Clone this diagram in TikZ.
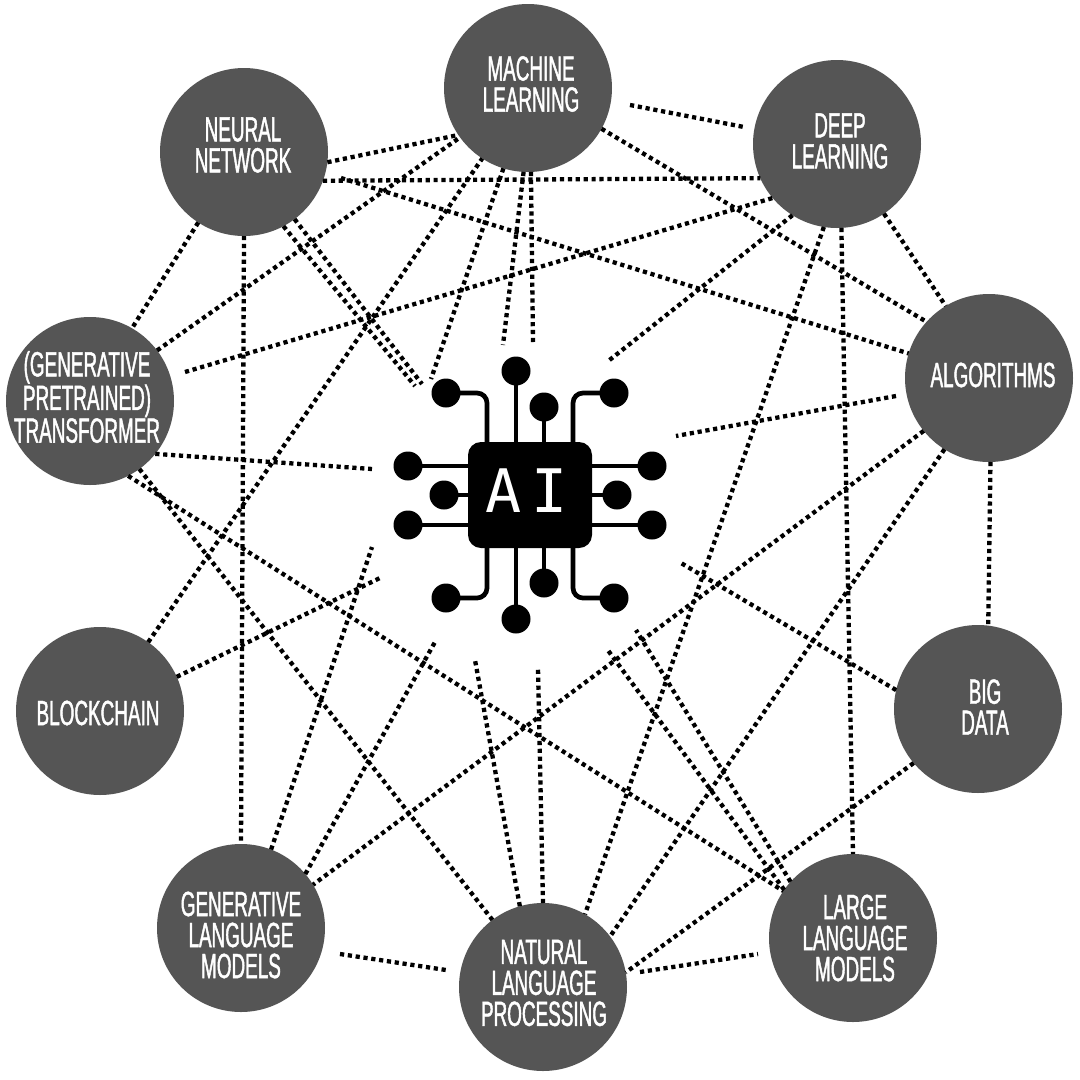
\documentclass[tikz,border=0pt]{standalone}
\usepackage{fontspec}
\setmainfont{Liberation Sans}
\newfontfamily\hubfont[FakeStretch=0.54,FakeBold=1.2]{Liberation Sans}
\newfontfamily\chipfont{DejaVu Sans Mono}
\definecolor{hubgrey}{HTML}{555555}
\tikzset{
  hub/.style={circle,fill=hubgrey,draw=none,minimum size=168pt,inner sep=0pt,outer sep=0pt},
  hubtext/.style={text=white,align=center,inner sep=0pt,font=\hubfont\fontsize{35}{31}\selectfont},
  link/.style={draw=black,line width=4.3pt,dash pattern=on 4.2pt off 3.7pt},
  pin/.style={circle,fill=black,minimum size=29pt,inner sep=0pt,outer sep=0pt},
  wire/.style={draw=black,line width=4.7pt,rounded corners=10pt}
}
\begin{document}
\begin{tikzpicture}[x=1pt,y=-1pt]
\useasboundingbox (0,0) rectangle (1080,1080);
% free ends of the links
\coordinate (mlE) at (630,105);
\coordinate (dlW) at (744,127);
\coordinate (nnS) at (341,178);
\coordinate (gptE) at (185,372);
\coordinate (algW) at (896,396);
\coordinate (nlpE) at (640,972);
\coordinate (llmW) at (758,954);
\coordinate (glmE) at (340,954);
\coordinate (nlpW) at (446,970);
\coordinate (ai1) at (422,384);
\coordinate (ai2) at (415,386);
\coordinate (ai3) at (431,379);
\coordinate (ai4) at (503,345);
\coordinate (ai5) at (533,342);
\coordinate (ai6) at (607,362);
\coordinate (ai7) at (676,436);
\coordinate (ai8) at (681,563);
\coordinate (ai9) at (372,469);
\coordinate (ai10) at (382,577);
\coordinate (ai11) at (372,547);
\coordinate (ai12) at (435,642);
\coordinate (ai13) at (475,660);
\coordinate (ai14) at (538,668);
\coordinate (ai15) at (607,649);
\coordinate (ai16) at (636,630);
% hubs
\node[hub] (ml) at (528,88) {};
\node[hub] (dl) at (837,144) {};
\node[hub] (alg) at (989,378) {};
\node[hub] (big) at (978,709) {};
\node[hub] (llm) at (853,938) {};
\node[hub] (nlp) at (543,987) {};
\node[hub] (glm) at (241,928) {};
\node[hub] (bc) at (100,711) {};
\node[hub] (gpt) at (90,401) {};
\node[hub] (nn) at (244,152) {};
% links
\draw[link] (mlE) -- (dlW);
\draw[link] (nn.-7) -- (ml.-146);
\draw[link] (nn.-20) -- (dl.-156);
\draw[link] (nnS) -- (alg.163);
\draw[link] (nn.-53) -- (ai1);
\draw[link] (nn.-62) -- (ai2);
\draw[link] (nn.-123) -- (gpt.60);
\draw[link] (nn.-90) -- (glm.90);
\draw[link] (gptE) -- (dl.-140);
\draw[link] (gpt.37) -- (ml.-144);
\draw[link] (bc.55) -- (ml.-123);
\draw[link] (ml.-107) -- (ai3);
\draw[link] (ml.-93) -- (ai4);
\draw[link] (ml.-88) -- (ai5);
\draw[link] (ml.-29) -- (alg.138);
\draw[link] (dl.-122) -- (ai6);
\draw[link] (dl.-99) -- (nlp.60);
\draw[link] (dl.-87) -- (llm.90);
\draw[link] (dl.-56) -- (alg.121);
\draw[link] (algW) -- (ai7);
\draw[link] (alg.-141) -- (glm.31);
\draw[link] (alg.-122) -- (nlp.37);
\draw[link] (alg.-89) -- (big.83);
\draw[link] (big.167) -- (ai8);
\draw[link] (big.-140) -- (nlp.10);
\draw[link] (nlpE) -- (llmW);
\draw[link] (glmE) -- (nlpW);
\draw[link] (gpt.-39) -- (ai9);
\draw[link] (gpt.-54) -- (nlp.127);
\draw[link] (gpt.-63) -- (llm.146);
\draw[link] (bc.24) -- (ai10);
\draw[link] (glm.69) -- (ai11);
\draw[link] (glm.40) -- (ai12);
\draw[link] (nlp.106) -- (ai13);
\draw[link] (nlp.90) -- (ai14);
\draw[link] (llm.145) -- (ai15);
\draw[link] (llm.138) -- (ai16);
% hub labels
\node[hubtext] (mlT) at (531,84) {MACHINE\\LEARNING};
\node[hubtext] (dlT) at (840,141) {DEEP\\LEARNING};
\node[hubtext] (algT) at (993,375) {ALGORITHMS};
\node[hubtext] (bigT) at (985,707) {BIG\\DATA};
\node[hubtext] (llmT) at (855,938) {LARGE\\LANGUAGE\\MODELS};
\node[hubtext] (nlpT) at (544,983) {NATURAL\\LANGUAGE\\PROCESSING};
\node[hubtext] (glmT) at (241,935) {GENERATIVE\\LANGUAGE\\MODELS};
\node[hubtext] (bcT) at (98,713) {BLOCKCHAIN};
\node[hubtext] (gptT) at (87,397) {(GENERATIVE\\PRETRAINED)\\TRANSFORMER};
\node[hubtext] (nnT) at (243,145) {NEURAL\\NETWORK};
% chip
\node[pin] (p1) at (516,371) {};
\node[pin] (p2) at (446,393) {};
\node[pin] (p3) at (544,407) {};
\node[pin] (p4) at (614,393) {};
\node[pin] (p5) at (408,466) {};
\node[pin] (p6) at (444,495) {};
\node[pin] (p7) at (408,525) {};
\node[pin] (p8) at (652,466) {};
\node[pin] (p9) at (617,495) {};
\node[pin] (p10) at (652,525) {};
\node[pin] (p11) at (446,598) {};
\node[pin] (p12) at (516,619) {};
\node[pin] (p13) at (544,583) {};
\node[pin] (p14) at (614,598) {};
\node[fill=black,rounded corners=13pt,minimum width=124pt,minimum height=106pt,inner sep=0pt,outer sep=0pt] (chip) at (530,495) {};
\draw[wire] (p1.center) -- (516,445);
\draw[wire] (p3.center) -- (544,445);
\draw[wire] (p2.center) -- (487,393) -- (487,445);
\draw[wire] (p4.center) -- (573,393) -- (573,445);
\draw[wire] (p5.center) -- (470,466);
\draw[wire] (p6.center) -- (470,495);
\draw[wire] (p7.center) -- (470,525);
\draw[wire] (p8.center) -- (590,466);
\draw[wire] (p9.center) -- (590,495);
\draw[wire] (p10.center) -- (590,525);
\draw[wire] (p11.center) -- (487,598) -- (487,545);
\draw[wire] (p14.center) -- (573,598) -- (573,545);
\draw[wire] (p12.center) -- (516,545);
\draw[wire] (p13.center) -- (544,545);
\node[text=white,inner sep=0pt,font=\chipfont\fontsize{60}{60}\selectfont] (chipT) at (527,491) {A\kern10pt I};
\end{tikzpicture}
\end{document}
